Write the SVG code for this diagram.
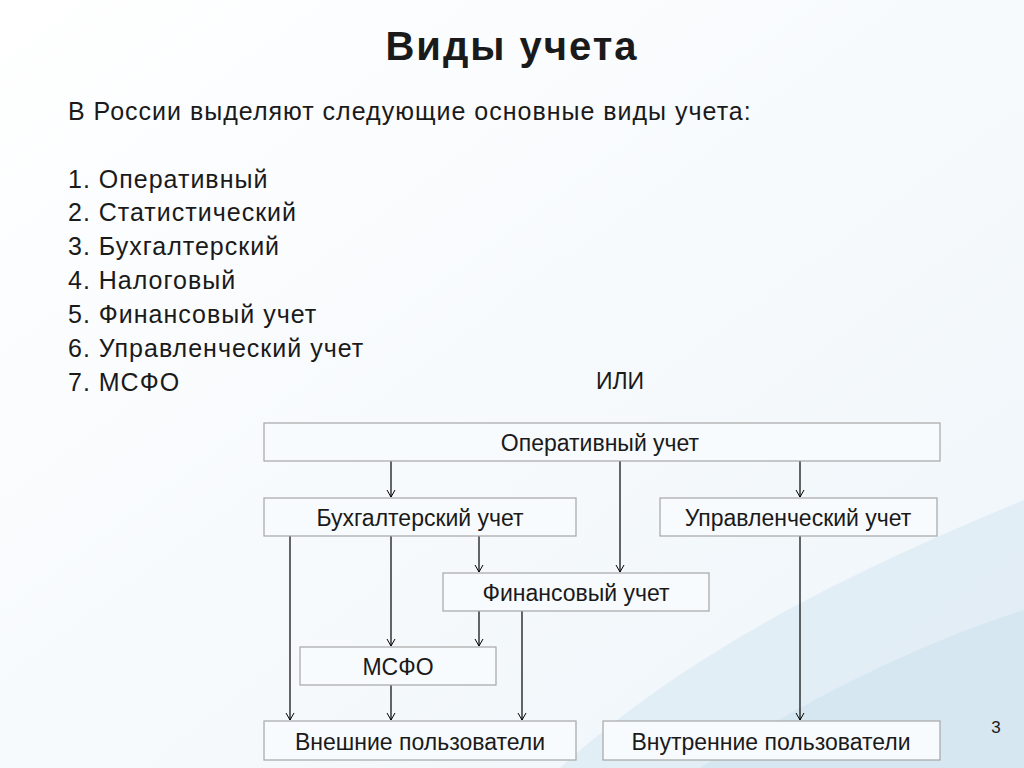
<svg xmlns="http://www.w3.org/2000/svg" width="1024" height="768" viewBox="0 0 1024 768">
<defs>
<linearGradient id="bg" x1="0" y1="0" x2="1" y2="1"><stop offset="0" stop-color="#ffffff"/><stop offset="1" stop-color="#eef5fa"/></linearGradient>
<marker id="ar" markerWidth="10" markerHeight="10" refX="9" refY="5" orient="auto" markerUnits="userSpaceOnUse" viewBox="0 0 10 10"><path d="M2,1 L9,5 L2,9" fill="none" stroke="#000" stroke-width="1"/></marker>
</defs>
<style>
.box{fill:#f8fbfd;stroke:#a6a6a6;stroke-width:1.2}
.lbl{font-family:"Liberation Sans",Arial,sans-serif;font-size:23px;fill:#1a1a1a;text-anchor:middle}
.t{font-family:"Liberation Sans",Arial,sans-serif;font-size:25px;letter-spacing:1px;fill:#1a1a1a}
.c line{stroke:#000;stroke-width:1.2;marker-end:url(#ar)}
</style>
<rect width="1024" height="768" fill="url(#bg)"/>
<path d="M560,768 C700,640 880,560 1024,500 L1024,768 Z" fill="#dceaf3" opacity="0.7"/>
<path d="M700,768 C820,690 930,640 1024,610 L1024,768 Z" fill="#cfe2ee" opacity="0.6"/>
<text x="512" y="60" text-anchor="middle" font-family="Liberation Sans,Arial,sans-serif" font-size="40" font-weight="bold" letter-spacing="2" fill="#1a1a1a">Виды учета</text>
<text class="t" x="68" y="120">В России выделяют следующие основные виды учета:</text>
<text class="t" x="68" y="188">1. Оперативный</text>
<text class="t" x="68" y="221">2. Статистический</text>
<text class="t" x="68" y="255">3. Бухгалтерский</text>
<text class="t" x="68" y="289">4. Налоговый</text>
<text class="t" x="68" y="323">5. Финансовый учет</text>
<text class="t" x="68" y="357">6. Управленческий учет</text>
<text class="t" x="68" y="391">7. МСФО</text>
<text class="lbl" x="620" y="389">ИЛИ</text>
<g class="c">
<line x1="391" y1="461" x2="391" y2="497"/>
<line x1="800" y1="461" x2="800" y2="497"/>
<line x1="620" y1="461" x2="620" y2="572"/>
<line x1="290" y1="536" x2="290" y2="720"/>
<line x1="391" y1="536" x2="391" y2="646"/>
<line x1="391" y1="685" x2="391" y2="720"/>
<line x1="479" y1="536" x2="479" y2="572"/>
<line x1="479" y1="611" x2="479" y2="646"/>
<line x1="522" y1="611" x2="522" y2="720"/>
<line x1="800" y1="536" x2="800" y2="720"/>
</g>
<g id="op"><rect class="box" x="264" y="423" width="676" height="38"/><text class="lbl" x="600" y="451">Оперативный учет</text></g>
<g id="buh"><rect class="box" x="264" y="498" width="312" height="38"/><text class="lbl" x="420" y="526">Бухгалтерский учет</text></g>
<g id="upr"><rect class="box" x="660" y="498" width="277" height="38"/><text class="lbl" x="798" y="526">Управленческий учет</text></g>
<g id="fin"><rect class="box" x="443" y="573" width="266" height="38"/><text class="lbl" x="576" y="601">Финансовый учет</text></g>
<g id="msfo"><rect class="box" x="300" y="647" width="196" height="38"/><text class="lbl" x="398" y="675">МСФО</text></g>
<g id="ext"><rect class="box" x="264" y="721" width="312" height="39"/><text class="lbl" x="420" y="750">Внешние пользователи</text></g>
<g id="int"><rect class="box" x="603" y="721" width="337" height="39"/><text class="lbl" x="771" y="750">Внутренние пользователи</text></g>
<text x="996" y="733" text-anchor="middle" font-family="Liberation Sans,Arial,sans-serif" font-size="17" fill="#1a1a1a">3</text>
</svg>
